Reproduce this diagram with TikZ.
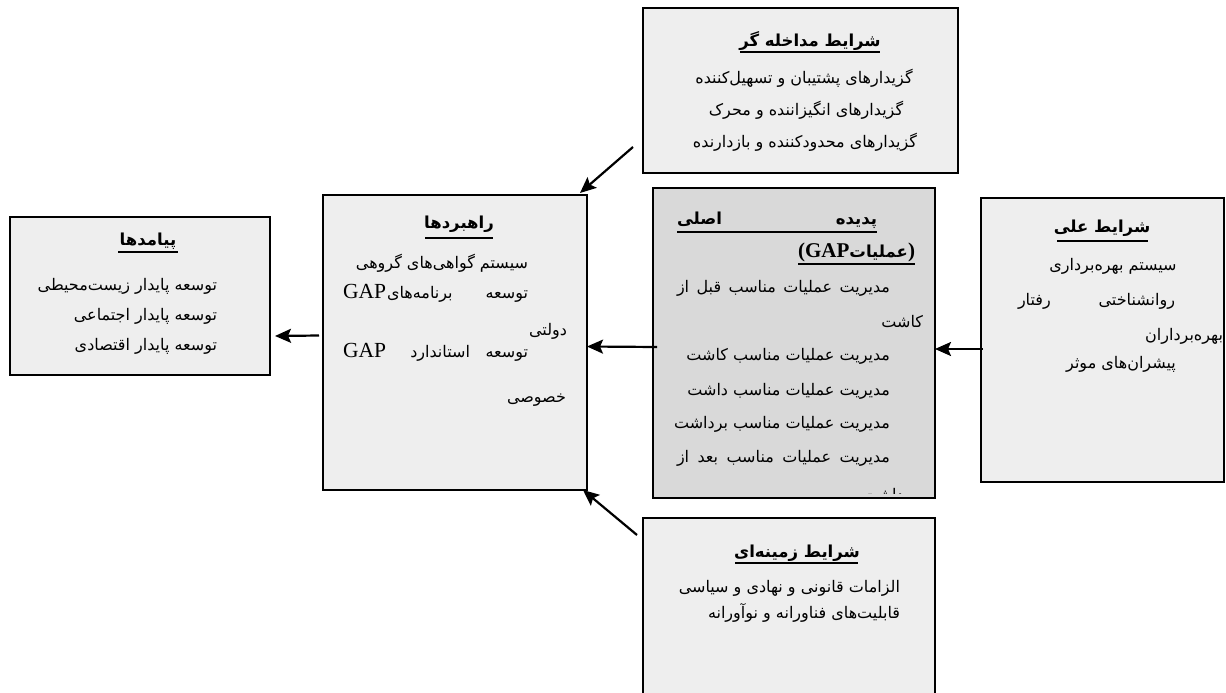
\documentclass[tikz,border=0pt]{standalone}
\usepackage{fontspec}
\setmainfont{Liberation Serif}
\newfontfamily\arfont[Script=Arabic]{DejaVu Sans}
\TeXXeTstate=1
\usetikzlibrary{arrows.meta}
\definecolor{boxgray}{HTML}{EEEEEE}
\definecolor{coregray}{HTML}{D9D9D9}
\newcommand\ar[1]{{\arfont\beginR #1\endR}}
\newcommand\arb[1]{{\arfont\bfseries\beginR #1\endR}}
\newcommand\jl[2]{\hbox to #1pt{\arfont\beginR #2\endR}}
\begin{document}
\begin{tikzpicture}[x=1pt,y=-1pt,
  box/.style={draw=black, line width=1.3pt, fill=boxgray, anchor=north west, inner sep=0pt, outer sep=0pt},
  txt/.style={inner sep=0pt, outer sep=0pt, anchor=base, font=\fontsize{16}{18}\selectfont},
  rtxt/.style={txt, anchor=base east},
  ltxt/.style={txt, anchor=base west},
  ttl/.style={txt, font=\fontsize{16.5}{18}\selectfont\bfseries},
  gap/.style={inner sep=0pt, outer sep=0pt, anchor=base west, font=\fontsize{21.5}{23}\selectfont},
  gapb/.style={inner sep=0pt, outer sep=0pt, anchor=base east, font=\fontsize{21}{23}\selectfont\bfseries},
  uline/.style={line width=1.3pt},
  arr/.style={line width=2.2pt, -{Stealth[length=16pt,width=14pt,inset=3pt]}}]
\useasboundingbox (0,0) rectangle (1226,693);
\clip (0,0) rectangle (1226,693);

% boxes
\node[box, minimum width=315pt, minimum height=165pt] (int) at (643,8) {};
\node[box, fill=coregray, minimum width=282pt, minimum height=310pt] (core) at (653,188) {};
\node[box, minimum width=243pt, minimum height=284pt] (cause) at (981,198) {};
\node[box, minimum width=264pt, minimum height=295pt] (str) at (323,195) {};
\node[box, minimum width=260pt, minimum height=158pt] (out) at (10,217) {};
\node[box, minimum width=292pt, minimum height=200pt] (ctx) at (643,518) {};

% intervening conditions
\node[ttl] (intT) at (810,47) {\arb{شرایط مداخله گر}};
\draw[uline] (740,52) -- (880,52);
\node[txt] (int1) at (804,83) {\ar{گزیدارهای پشتیبان و تسهیل‌کننده}};
\node[txt] (int2) at (806,115) {\ar{گزیدارهای انگیزاننده و محرک}};
\node[txt] (int3) at (805,147) {\ar{گزیدارهای محدودکننده و بازدارنده}};

% core phenomenon
\node[ttl, anchor=base east] (coreT1) at (877,224) {\arb{پدیده}};
\node[ttl, anchor=base west] (coreT2) at (677,224) {\arb{اصلی}};
\draw[uline] (677,232) -- (877,232);
\node[gapb] (pR) at (915,257) {)};
\node[ttl, anchor=base east] (coreT3) at (pR.base west) {\arb{عملیات}};
\node[gapb] (gapT) at (coreT3.base west) {GAP};
\node[gapb] (pL) at (gapT.base west) {(};
\draw[uline] (pL.base west |- 0,264) -- (915,264);
\node[txt, anchor=base east] (core1) at (890,292) {\jl{213}{مدیریت\hfill عملیات\hfill مناسب\hfill قبل\hfill از}};
\node[rtxt] (core2) at (923,327) {\ar{کاشت}};
\node[rtxt] (core3) at (890,360) {\ar{مدیریت عملیات مناسب کاشت}};
\node[rtxt] (core4) at (890,395) {\ar{مدیریت عملیات مناسب داشت}};
\node[rtxt] (core5) at (890,428) {\ar{مدیریت عملیات مناسب برداشت}};
\node[txt, anchor=base east] (core6) at (890,462) {\jl{213}{مدیریت\hfill عملیات\hfill مناسب\hfill بعد\hfill از}};
\begin{scope}
\clip (653,188) rectangle (935,493);
\node[rtxt] (core7) at (917,500) {\ar{برداشت}};
\end{scope}

% causal conditions
\node[ttl] (causeT) at (1102,232) {\arb{شرایط علی}};
\draw[uline] (1057,241) -- (1148,241);
\node[txt] (cause1) at (1113,270) {\ar{سیستم بهره‌برداری}};
\node[rtxt] (cause2) at (1175,305) {\ar{روانشناختی}};
\node[ltxt] (cause3) at (1018,305) {\ar{رفتار}};
\node[rtxt] (cause4) at (1223,340) {\ar{بهره‌برداران}};
\node[txt] (cause5) at (1121,368) {\ar{پیشران‌های موثر}};

% strategies
\node[ttl] (strT) at (459,228) {\arb{راهبردها}};
\draw[uline] (425,238) -- (493,238);
\node[rtxt] (str1) at (528,268) {\ar{سیستم گواهی‌های گروهی}};
\node[rtxt] (str2a) at (528,298) {\ar{توسعه}};
\node[gap] (str2c) at (343,298) {GAP};
\node[ltxt, xshift=1pt] (str2b) at (str2c.base east) {\ar{برنامه‌های}};
\node[rtxt] (str3) at (567,335) {\ar{دولتی}};
\node[rtxt] (str4a) at (528,357) {\ar{توسعه}};
\node[rtxt] (str4b) at (470,357) {\ar{استاندارد}};
\node[gap] (str4c) at (343,357) {GAP};
\node[rtxt] (str5) at (566,402) {\ar{خصوصی}};

% outcomes
\node[ttl] (outT) at (148,245) {\arb{پیامدها}};
\draw[uline] (118,252) -- (178,252);
\node[rtxt] (out1) at (217,290) {\ar{توسعه پایدار زیست‌محیطی}};
\node[rtxt] (out2) at (217,320) {\ar{توسعه پایدار اجتماعی}};
\node[rtxt] (out3) at (217,350) {\ar{توسعه پایدار اقتصادی}};

% contextual conditions
\node[ttl] (ctxT) at (797,557) {\arb{شرایط زمینه‌ای}};
\draw[uline] (735,563) -- (858,563);
\node[rtxt] (ctx1) at (900,592) {\ar{الزامات قانونی و نهادی و سیاسی}};
\node[rtxt] (ctx2) at (900,618) {\ar{قابلیت‌های فناورانه و نوآورانه}};

% arrows
\draw[arr] ([shift={(-10,-26)}]int.south west) -- ([shift={(-7,-2)}]str.north east);
\draw[arr] ([shift={(-6,17)}]ctx.north west) -- ([shift={(-4,0)}]str.south east);
\draw[arr] ([shift={(4,4)}]core.west) -- ([shift={(0,4)}]str.east);
\draw[arr] ([shift={(2,9)}]cause.west) -- ([shift={(0,6)}]core.east);
\draw[arr] ([shift={(-4,-7)}]str.west) -- ([shift={(5,40)}]out.east);
\end{tikzpicture}
\end{document}
